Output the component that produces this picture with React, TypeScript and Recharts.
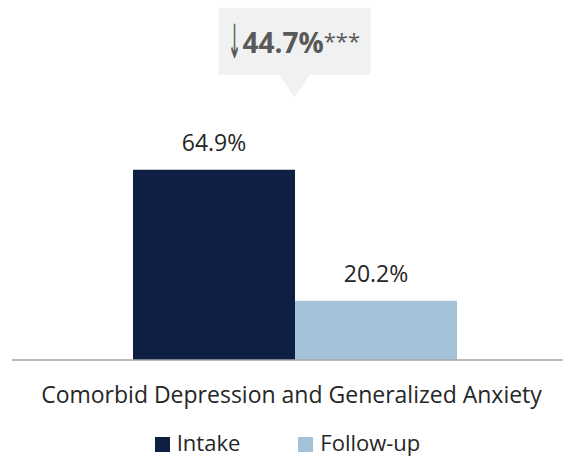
import React from "react";
import { BarChart, Bar, XAxis, YAxis, LabelList, ReferenceDot } from "recharts";

const categories = ["Comorbid Depression and Generalized Anxiety"];
const intakeValues = [64.9];
const followUpValues = [20.2];
const seriesNames = ["Intake", "Follow-up"];
const changeLabel = "44.7%";
const significance = "***";
const calloutY = 89.5;

const COLORS = ["#0e1f43", "#a3c2da"];
const FONT = "'Open Sans', sans-serif";

const data = categories.map((c, i) => ({
  name: c,
  intake: intakeValues[i],
  followUp: followUpValues[i],
}));

const CategoryTick = (props: any) => {
  const { x, y, payload } = props;
  return (
    <text x={x} y={y} dy={35} dx={-3} textAnchor="middle" fill="#262626" fontFamily={FONT} fontSize={23}>
      {payload.value}
    </text>
  );
};

const Callout = (props: any) => {
  const { cx, cy } = props;
  if (cx == null || cy == null) return null;
  return (
    <g>
      <rect x={cx - 76} y={cy - 90} width={152} height={67} fill="#f0f1f1" />
      <path d={`M${cx - 15},${cy - 23} L${cx + 15},${cy - 23} L${cx},${cy} Z`} fill="#f0f1f1" />
      <text
        transform={`translate(${cx - 60},${cy - 40}) scale(0.34,1)`}
        x={0}
        y={0}
        textAnchor="middle"
        fill="#595959"
        fontFamily="'DejaVu Sans', sans-serif"
        fontSize={47}
      >
        ↓
      </text>
      <text x={cx - 52} y={cy - 45} textAnchor="start" fill="#595959" fontFamily={FONT}>
        <tspan fontSize={28} fontWeight={700}>{changeLabel}</tspan>
        <tspan fontSize={22} dy={-4}>{significance}</tspan>
      </text>
    </g>
  );
};

const labelStyle = { fill: "#262626", fontFamily: FONT, fontSize: 23 };

export default function App() {
  return (
    <div style={{ position: "absolute", left: 0, top: 0, width: 563, height: 456, background: "#fff", overflow: "hidden" }}>
      <BarChart
        width={563}
        height={456}
        data={data}
        margin={{ top: 67, right: 0, left: 12, bottom: 36 }}
        barCategoryGap={107}
        barGap={0}
      >
        <XAxis
          dataKey="name"
          height={60}
          padding={{ left: 14, right: 0 }}
          tickLine={false}
          axisLine={{ stroke: "#a6a6a6", strokeWidth: 1.5 }}
          tick={<CategoryTick />}
          interval={0}
        />
        <YAxis hide domain={[0, 100]} />
        <Bar dataKey="intake" name={seriesNames[0]} fill={COLORS[0]} isAnimationActive={false}>
          <LabelList dataKey="intake" position="top" offset={19} formatter={(v: any) => `${v}%`} style={labelStyle} />
        </Bar>
        <Bar dataKey="followUp" name={seriesNames[1]} fill={COLORS[1]} isAnimationActive={false}>
          <LabelList dataKey="followUp" position="top" offset={19} formatter={(v: any) => `${v}%`} style={labelStyle} />
        </Bar>
        <ReferenceDot x={categories[0]} y={calloutY} r={0} shape={<Callout />} ifOverflow="visible" />
      </BarChart>
      <div
        style={{
          position: "absolute",
          left: 0,
          top: 431,
          width: 563,
          height: 22,
          boxSizing: "border-box",
          paddingLeft: 12,
          display: "flex",
          justifyContent: "center",
          alignItems: "center",
          fontFamily: FONT,
          fontSize: 22,
          lineHeight: "22px",
          color: "#262626",
          gap: 58,
        }}
      >
        {seriesNames.map((n, i) => (
          <div key={n} style={{ display: "flex", alignItems: "center" }}>
            <span
              style={{
                display: "inline-block",
                width: 15,
                height: 15,
                background: COLORS[i],
                marginRight: 7,
                position: "relative",
                top: 2,
              }}
            />
            <span>{n}</span>
          </div>
        ))}
      </div>
    </div>
  );
}
